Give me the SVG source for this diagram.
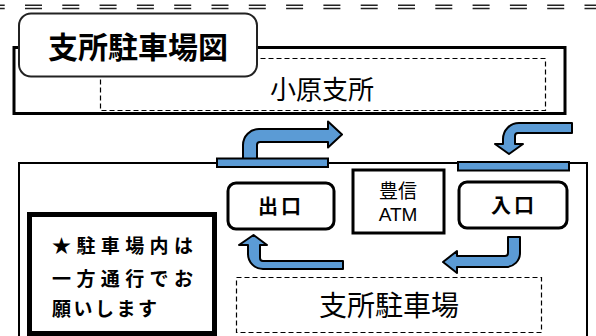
<svg xmlns="http://www.w3.org/2000/svg" width="596" height="336" viewBox="0 0 596 336">
<style>
.jp{font-family:"Noto Sans CJK JP","Noto Sans",sans-serif;fill:#000}
.lat{font-family:"Liberation Sans",Arial,sans-serif;fill:#000}
.b{font-weight:bold}
.dash{fill:none;stroke:#000;stroke-width:1.2;stroke-dasharray:5 3}
.arrow{fill:#5B9BD5;stroke:#000;stroke-width:2;stroke-linejoin:round}
.gate{fill:#5B9BD5;stroke:#000;stroke-width:2}
.dbl{stroke:#222;stroke-width:1.4;stroke-dasharray:17 20.3}
</style>
<rect width="596" height="336" fill="#fff"/>
<g id="top-border">
<line class="dbl" x1="-12.3" y1="5.3" x2="596" y2="5.3"/>
<line class="dbl" x1="-12.3" y1="8.5" x2="596" y2="8.5"/>
</g>
<g id="branch">
<rect x="14" y="47.5" width="551" height="66" fill="#fff" stroke="#000" stroke-width="3"/>
<rect class="dash" x="100.5" y="58.5" width="445" height="52"/>
<text class="jp" x="322" y="99" font-size="26" text-anchor="middle">小原支所</text>
</g>
<g id="title">
<rect x="19" y="13.5" width="238" height="63" rx="12" fill="#fff" stroke="#222" stroke-width="2"/>
<text class="jp b" x="138" y="58" font-size="30" text-anchor="middle">支所駐車場図</text>
</g>
<g id="lot">
<path d="M19,336 L19,163 L587,163 L587,336" fill="none" stroke="#000" stroke-width="2"/>
<rect class="dash" x="236.5" y="277.5" width="305" height="55"/>
<text class="jp" x="389" y="316" font-size="28" text-anchor="middle">支所駐車場</text>
</g>
<g id="connectors">
<path class="arrow" d="M243,162 L243,145 A16,16 0 0 1 259,129 L328,129 L328,121.5 L342,134.5 L328,147.5 L328,142 L260,142 A3,3 0 0 0 257,145 L257,162 Z"/>
<path class="arrow" d="M572,123 L519,123 A16,16 0 0 0 503,139 L503,144 L495,144 L509,154 L523,144 L515,144 L515,136 A3,3 0 0 1 518,133 L572,133 Z"/>
<path class="arrow" d="M343,261 L263,261 A3,3 0 0 1 260,258 L260,245 L267,245 L253.5,235 L239,245 L248,245 L248,254 A15,15 0 0 0 263,269 L343,269 Z"/>
<path class="arrow" d="M508,237 L520,237 L520,253 A14,14 0 0 1 506,267 L457,267 L457,273 L443,262 L457,251 L457,256 L505,256 A3,3 0 0 0 508,253 Z"/>
</g>
<g id="gates">
<rect class="gate" x="217" y="158.5" width="111" height="8.5"/>
<rect class="gate" x="458" y="162" width="111" height="8.5"/>
</g>
<g id="exit">
<rect x="228" y="183" width="106" height="46" rx="8" fill="#fff" stroke="#000" stroke-width="3"/>
<text class="jp b" x="281" y="213.5" font-size="20" text-anchor="middle" letter-spacing="3">出口</text>
</g>
<g id="atm">
<rect x="353" y="170" width="91" height="63" fill="#fff" stroke="#000" stroke-width="3"/>
<text class="jp" x="398" y="198" font-size="19" text-anchor="middle">豊信</text>
<text class="lat" x="398" y="221" font-size="19" text-anchor="middle">ATM</text>
</g>
<g id="entrance">
<rect x="459" y="182" width="108" height="46" rx="8" fill="#fff" stroke="#000" stroke-width="3"/>
<text class="jp b" x="514" y="213" font-size="20" text-anchor="middle" letter-spacing="3">入口</text>
</g>
<g id="notice">
<rect x="29.5" y="214.5" width="185" height="119" fill="#fff" stroke="#000" stroke-width="5"/>
<text class="jp b" x="52" y="252.5" font-size="19" textLength="141" lengthAdjust="spacing">★駐車場内は</text>
<text class="jp b" x="52" y="286" font-size="19" textLength="141" lengthAdjust="spacing">一方通行でお</text>
<text class="jp b" x="52" y="316" font-size="19" textLength="105" lengthAdjust="spacing">願いします</text>
</g>
</svg>
